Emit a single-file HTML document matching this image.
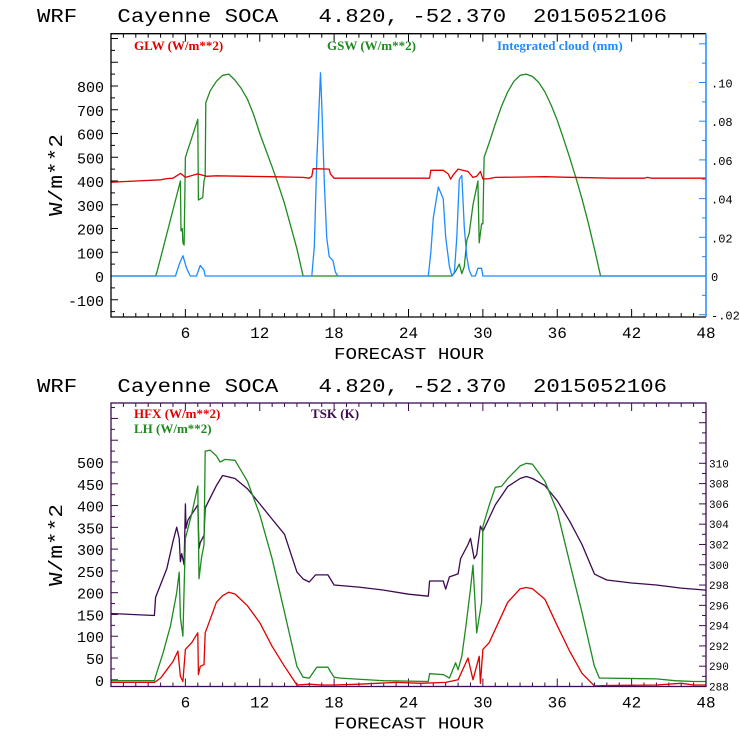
<!DOCTYPE html>
<html><head><meta charset="utf-8"><style>
html,body{margin:0;padding:0;background:#fff;}
svg{display:block;font-family:"Liberation Mono",monospace;}
</style></head><body>
<svg id="svg" width="740" height="740" viewBox="0 0 740 740" xmlns="http://www.w3.org/2000/svg">
<text x="37" y="22" font-size="19" textLength="630" lengthAdjust="spacingAndGlyphs" style="white-space:pre">WRF   Cayenne SOCA   4.820, -52.370  2015052106</text>
<text x="37" y="392" font-size="19" textLength="630" lengthAdjust="spacingAndGlyphs" style="white-space:pre">WRF   Cayenne SOCA   4.820, -52.370  2015052106</text>
<g id="top"></g>
<g id="bot"></g>
</svg>
<script>
// ---------- data: top chart ----------
const gswHours=[0,3.6,3.7,5.6,5.65,5.75,5.8,5.9,6.0,7.0,7.05,7.4,7.5,7.6,7.65,8,8.5,9,9.5,10,10.5,11,11.5,12,12.5,13,13.5,14,14.5,15,15.5,27.5,27.8,28.1,28.3,28.5,28.7,28.9,29.2,29.6,29.7,29.9,30.0,30.1,30.5,31,31.5,32,32.5,33,33.5,34,34.5,35,35.5,36,36.5,37,37.5,38,38.5,39,39.5,48];
const gswValues=[0,0,15,400,190,200,140,130,500,660,320,330,400,420,730,780,820,845,850,825,790,745,680,600,530,460,385,305,210,115,0,0,20,50,10,40,150,180,300,400,140,220,220,500,560,640,715,775,820,845,850,840,815,775,720,655,580,500,415,325,225,115,0,0];
const glwHours=[0,2,4,4.5,5,5.6,6,7,7.7,8.5,12.9,15.5,16.0,16.2,16.3,17.6,17.7,18,25.7,25.8,26.8,27.2,27.4,27.6,28.0,28.8,29.2,29.5,29.8,30,30.5,31,35,36.5,40.5,43,43.3,43.6,48];
const glwValues=[395,400,405,410,412,432,415,430,420,422,418,415,412,420,452,450,430,412,412,445,445,430,408,425,450,440,415,420,440,408,410,415,418,416,412,412,415,412,412];
const cloudHours=[0,5.2,5.5,5.8,6.1,6.4,6.9,7.2,7.5,7.6,16.2,16.4,16.6,16.9,17.0,17.2,17.4,17.6,17.9,18.1,18.3,25.6,25.8,26.0,26.4,26.8,27.0,27.3,27.5,27.7,27.9,28.1,28.3,28.5,28.7,28.9,29.1,29.4,29.6,29.9,30.0,48];
const cloudValues=[0,0,0.006,0.0105,0.004,0,0,0.0055,0.003,0,0,0.015,0.06,0.105,0.09,0.05,0.02,0.01,0.008,0.002,0,0,0.012,0.03,0.046,0.04,0.02,0.005,0,0.002,0.02,0.05,0.052,0.025,0.01,0.003,0,0,0.004,0.004,0,0];
// ---------- data: bottom chart ----------
const tskHours=[0,3.5,3.6,4.5,5.0,5.3,5.5,5.6,5.7,5.9,6.0,6.05,6.2,7.0,7.1,7.2,7.5,7.6,8.5,9.0,10,11,12,13,14,15,15.5,16,16.5,17.5,18,20,22,24,25.6,25.7,26.8,27,27.3,28,28.2,28.8,29,29.3,29.5,29.8,30.0,30.5,31,32,33,33.5,34,35,36,37,38,39,39.3,40,42,44,46,47,48];
const tskValues=[295.2,295.0,296.8,299.6,302.3,303.7,302.6,300.3,301.1,300.0,306.0,303.6,304.4,305.9,301.6,302.2,302.9,305.6,307.8,308.8,308.5,307.5,306.0,304.5,303.0,299.3,298.6,298.3,299.0,299.0,298.0,297.8,297.5,297.1,296.9,298.4,298.4,297.6,298.8,299.1,300.6,302.0,302.6,300.6,301.0,303.8,303.3,304.6,305.9,307.7,308.5,308.7,308.5,307.8,306.3,304.3,302.0,299.1,298.9,298.5,298.2,298.0,297.7,297.6,297.5];
const lhHours=[0,3.5,3.6,4.2,4.8,5.3,5.5,5.6,5.8,6.0,6.5,7.0,7.1,7.3,7.5,7.6,8.0,8.5,8.8,9.2,10,11,12,13,14,15,15.5,16,16.6,17.5,17.7,18.0,18.5,22,25.6,25.7,26.8,27.3,27.8,28.0,28.3,28.6,29.0,29.2,29.5,29.9,30.0,30.5,31,31.5,32,33,33.5,34,35,36,37,38,39,39.4,40,44,45.5,47,48];
const lhValues=[-2,-2,8,62,124,200,247,143,100,325,380,445,232,280,310,525,527,514,500,506,504,456,379,278,155,31,6,4,29,29,19,6,4,-2,-4,14,12,4,39,23,54,116,209,263,108,178,352,400,442,444,462,491,497,495,456,386,270,155,31,4,4,2,-2,-4,-4];
const hfxHours=[0,3.5,4,4.5,5.0,5.4,5.6,5.8,6.0,6.5,7.0,7.05,7.2,7.5,7.6,8,8.5,9.0,9.5,10,11,12,13,14,15,16,17,18,20,23,25,27,28,28.8,29.2,29.7,29.8,30.0,30.5,31,32,33,33.5,34,35,36,37,38,39,40,44,46,47,48];
const hfxValues=[-6,-6,4,23,42,66,8,-4,70,85,108,12,31,35,108,139,178,193,201,197,170,131,77,31,-12,-10,-12,-12,-10,-6,-8,-6,0,50,0,54,-8,70,85,116,178,209,212,209,185,124,66,15,-14,-13,-12,-8,-12,-12];
// tick labels
const topLeftTicks=[-100,0,100,200,300,400,500,600,700,800];
const topRightTicks=[-0.02,0,0.02,0.04,0.06,0.08,0.10];
const topRightLabels=["-.02","0",".02",".04",".06",".08",".10"];
const botLeftTicks=[0,50,100,150,200,250,300,350,400,450,500];
const botRightTicks=[288,290,292,294,296,298,300,302,304,306,308,310];
const xTicks=[6,12,18,24,30,36,42,48];

const NS="http://www.w3.org/2000/svg";
function mk(parent,tag,attrs,text){const e=document.createElementNS(NS,tag);for(const k in attrs)e.setAttribute(k,attrs[k]);if(text!==undefined)e.textContent=text;parent.appendChild(e);return e;}
const X0=111,X1=706;
function xs(h){return X0+(X1-X0)*h/48;}
function lin(d0,d1,p0,p1){return v=>p0+(v-d0)*(p1-p0)/(d1-d0);}

function series(g,hours,vals,ys,color,name){
  let d="";
  for(let i=0;i<hours.length;i++){d+=(i?"L":"M")+xs(hours[i]).toFixed(1)+","+ys(vals[i]).toFixed(1);}
  const p=mk(g,"path",{d:d,fill:"none",stroke:color,"stroke-width":"1.3","stroke-linejoin":"round"});
  
  
}
function xAxis(g,top,bot,color){
  for(let h=1;h<48;h++){
    const len=(h%6===0)?8:4;
    const t1=mk(g,"line",{x1:xs(h),x2:xs(h),y1:bot,y2:bot-len,stroke:color,"stroke-width":1});
    
    
    const t2=mk(g,"line",{x1:xs(h),x2:xs(h),y1:top,y2:top+len,stroke:color,"stroke-width":1});
    
    
  }
  xTicks.forEach(h=>{
    const t=mk(g,"text",{x:xs(h),y:bot+21,"font-size":16,"text-anchor":"middle"},String(h));
    
    
  });
  const tt=mk(g,"text",{x:409,y:bot+42,"font-size":17,"text-anchor":"middle",textLength:150,lengthAdjust:"spacingAndGlyphs"},"FORECAST HOUR");
  
  
}
function yTitle(g,cy){
  const t=mk(g,"text",{x:0,y:0,"font-size":19,"text-anchor":"middle",transform:`translate(62,${cy}) rotate(-90)`,textLength:82,lengthAdjust:"spacingAndGlyphs"},"W/m**2");
  
  
}
function legend(g,x,y,color,txt,name){
  const t=mk(g,"text",{x:x,y:y,"font-size":13,fill:color,"font-family":"Liberation Serif, serif","font-weight":"bold"},txt);
  
  
}

// ---------- top chart ----------
(function(){
  const g=document.getElementById("top");
  const T=33.7,B=317;
  const yL=lin(0,800,276,86), yR=lin(0,0.10,276,82.5);
  const BLUE="#1e8cff",RED="#e00000",GREEN="#1f8a1f";
  for(let v=-150;v<=1000;v+=50){const y=yL(v);if(y<T+1||y>B-1)continue;
    const t=mk(g,"line",{x1:X0,x2:X0+(v%100===0?7:4),y1:y,y2:y,stroke:"#000"});
    }
  topLeftTicks.forEach(v=>{const t=mk(g,"text",{x:104,y:yL(v)+6,"font-size":15,"text-anchor":"end"},String(v));
    });
  for(let i=-2;i<=12;i++){const v=i/100;const y=yR(v);if(y<T+1||y>B-1)continue;
    const t=mk(g,"line",{x1:X1,x2:X1-(i%2===0?7:4),y1:y,y2:y,stroke:BLUE});
    }
  topRightTicks.forEach((v,i)=>{const t=mk(g,"text",{x:711,y:yR(v)+5,"font-size":12},topRightLabels[i]);
    });
  xAxis(g,T,B,"#000");
  yTitle(g,175);
  series(g,gswHours,gswValues,yL,GREEN,"gsw-line");
  series(g,cloudHours,cloudValues,yR,BLUE,"cloud-line");
  series(g,glwHours,glwValues,yL,RED,"glw-line");
  const f=mk(g,"path",{d:`M${X1},${T}H${X0}V${B}H${X1}`,fill:"none",stroke:"#000","stroke-width":1.3});
  
  const r=mk(g,"line",{x1:X1,x2:X1,y1:T,y2:B,stroke:BLUE,"stroke-width":1.5});
  
  legend(g,134,50,RED,"GLW (W/m**2)","legend-glw");
  legend(g,327,50,GREEN,"GSW (W/m**2)","legend-gsw");
  legend(g,497,50,BLUE,"Integrated cloud (mm)","legend-cloud");
})();

// ---------- bottom chart ----------
(function(){
  const g=document.getElementById("bot");
  const T=403,B=686.5;
  const yL=lin(0,500,679.8,462), yR=lin(288,310,686.5,463.3);
  const PUR="#3c0a50",RED="#e00000",GREEN="#1f8a1f";
  for(let v=0;v<=750;v+=25){const y=yL(v);if(y<T+1||y>B-1)continue;
    const t=mk(g,"line",{x1:X0,x2:X0+(v%50===0?7:4),y1:y,y2:y,stroke:PUR});
    }
  botLeftTicks.forEach(v=>{const t=mk(g,"text",{x:104,y:yL(v)+6,"font-size":15,"text-anchor":"end"},String(v));
    });
  for(let v=288;v<=316;v+=1){const y=yR(v);if(y<T+1||y>B-1)continue;
    const t=mk(g,"line",{x1:X1,x2:X1-(v%2===0?7:4),y1:y,y2:y,stroke:PUR});
    }
  botRightTicks.forEach(v=>{const t=mk(g,"text",{x:709,y:yR(v)+4,"font-size":11},String(v));
    });
  xAxis(g,T,B,PUR);
  yTitle(g,545);
  series(g,tskHours,tskValues,yR,PUR,"tsk-line");
  series(g,lhHours,lhValues,yL,GREEN,"lh-line");
  series(g,hfxHours,hfxValues,yL,RED,"hfx-line");
  const f=mk(g,"rect",{x:X0,y:T,width:X1-X0,height:B-T,fill:"none",stroke:PUR,"stroke-width":1.3});
  
  legend(g,134,418,RED,"HFX (W/m**2)","legend-hfx");
  legend(g,134,433,GREEN,"LH  (W/m**2)","legend-lh");
  legend(g,311,418,PUR,"TSK (K)","legend-tsk");
})();
</script>
</body></html>
